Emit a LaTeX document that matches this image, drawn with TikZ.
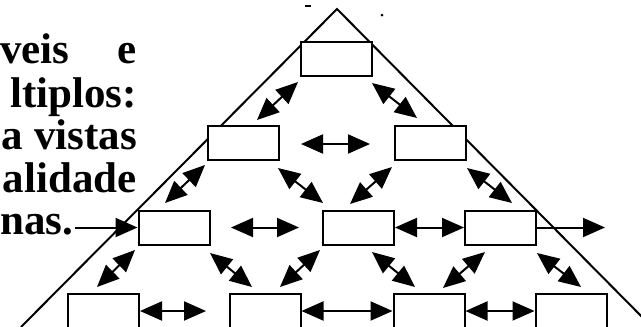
\documentclass[tikz,border=0pt]{standalone}
\usepackage{fontspec}
\setmainfont{Liberation Serif}
\usetikzlibrary{arrows.meta}

\begin{document}
\begin{tikzpicture}[x=1pt,y=-1pt]
\tikzstyle{box} = [draw,rectangle,line width=2pt,minimum width=71pt,minimum height=34pt,inner sep=0pt,fill=white]
\tikzstyle{dbl} = [line width=2pt,{Triangle[length=22pt,width=19pt]}-{Triangle[length=22pt,width=19pt]}]
\tikzstyle{sgl} = [line width=2pt,-{Triangle[length=22pt,width=19pt]}]
\tikzstyle{txt} = [anchor=base east,inner sep=0pt,font=\fontsize{43}{43}\selectfont\bfseries]

\begin{scope}
\clip (0,0) rectangle (641,327);
\fill[white] (0,0) rectangle (641,327);

% text cut at the left
\node[txt,anchor=base west] (w1) at (0,63) {veis};
\node[txt] (w2) at (137,63) {e};
\node[txt] (w3) at (137,107) {ltiplos:};
\node[txt] (w4) at (137,149) {a vistas};
\node[txt] (w5) at (137,192) {alidade};
\node[txt,anchor=base west] (w6) at (0,234) {nas.};

% specks
\fill (305,5) rectangle (311,7);
\fill (382,15) circle (1.5);

% pyramid
\draw[line width=2pt] (21,327) -- (337,9) -- (652,327);

\draw(336,59) node[box]      (n1) {};
\draw(243,142.5) node[box]   (n21) {};
\draw(430,143) node[box]     (n22) {};
\draw(174,227.5) node[box]   (n31) {};
\draw(358.5,227.5) node[box] (n32) {};
\draw(500.5,227.5) node[box] (n33) {};
\draw(103.5,311) node[box]   (n41) {};
\draw(265,311) node[box]     (n42) {};
\draw(429,311) node[box]     (n43) {};
\draw(571,311) node[box]     (n44) {};

\coordinate (p1) at (298,82);   \coordinate (q1) at (257,120);
\coordinate (p2) at (372,83);   \coordinate (q2) at (417,118);
\coordinate (p3) at (301,144);  \coordinate (q3) at (370,144);
\coordinate (p4) at (205,165);  \coordinate (q4) at (165,203);
\coordinate (p5) at (278,168);  \coordinate (q5) at (323,203);
\coordinate (p6) at (392,167);  \coordinate (q6) at (350,204);
\coordinate (p7) at (467,168);  \coordinate (q7) at (512,203);
\coordinate (p8) at (231,227.5);  \coordinate (q8) at (299,227.5);
\coordinate (p9) at (135,250);  \coordinate (q9) at (97,287);
\coordinate (p10) at (210,253); \coordinate (q10) at (252,287);
\coordinate (p11) at (320,250); \coordinate (q11) at (280,287);
\coordinate (p12) at (372,252); \coordinate (q12) at (415,287);
\coordinate (p13) at (485,252); \coordinate (q13) at (443,288);
\coordinate (p14) at (537,253); \coordinate (q14) at (581,287);
\coordinate (s1) at (75,227.5);
\coordinate (e1) at (605,227.5);
\coordinate (e2) at (206,311);

\foreach \i in {1,...,14}
  \draw[dbl] (p\i) -- (q\i);

\draw[sgl] (s1) -- (n31);
\draw[sgl] (n33) -- (e1);
\draw[dbl] (n32) -- (n33);
\draw[dbl] (n41) -- (e2);
\draw[dbl] (n42) -- (n43);
\draw[dbl] (n43) -- (n44);
\end{scope}
\end{tikzpicture}
\end{document}
